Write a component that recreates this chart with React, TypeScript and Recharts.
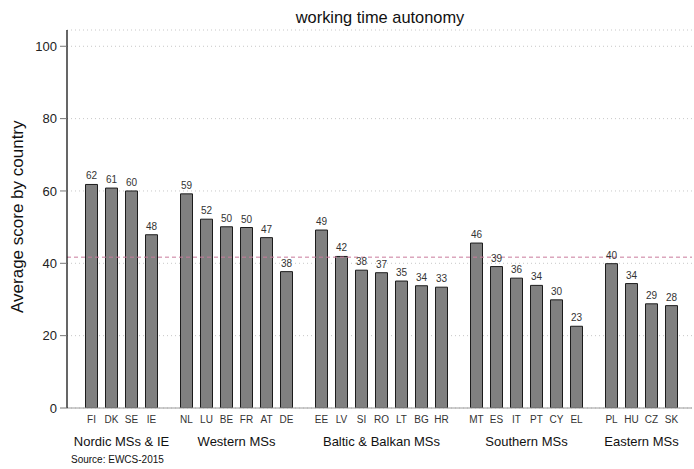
import React from 'react';
import { BarChart, Bar, XAxis, YAxis, CartesianGrid, ReferenceLine, LabelList } from 'recharts';

const FONT = '"Liberation Sans", Arial, Helvetica, sans-serif';

const titleText = 'working time autonomy';
const yAxisTitle = 'Average score by country';
const sourceText = 'Source: EWCS-2015';

const groupNames = ['Nordic MSs & IE', 'Western MSs', 'Baltic & Balkan MSs', 'Southern MSs', 'Eastern MSs'];

const nordicCodes = ['FI', 'DK', 'SE', 'IE'];
const nordicValues = [61.8, 60.8, 60.0, 47.9];

const westernCodes = ['NL', 'LU', 'BE', 'FR', 'AT', 'DE'];
const westernValues = [59.2, 52.2, 50.1, 49.9, 47.1, 37.7];

const balticCodes = ['EE', 'LV', 'SI', 'RO', 'LT', 'BG', 'HR'];
const balticValues = [49.2, 41.9, 38.1, 37.4, 35.1, 33.8, 33.4];

const southernCodes = ['MT', 'ES', 'IT', 'PT', 'CY', 'EL'];
const southernValues = [45.6, 39.1, 35.9, 33.9, 29.9, 22.6];

const easternCodes = ['PL', 'HU', 'CZ', 'SK'];
const easternValues = [39.9, 34.4, 28.8, 28.3];

const overallMean = 41.7;

const yTicks = [0, 20, 40, 60, 80, 100];
const yMax = 104.5;

const groupCodes = [nordicCodes, westernCodes, balticCodes, southernCodes, easternCodes];
const groupValues = [nordicValues, westernValues, balticValues, southernValues, easternValues];

const GROUP_GAP = 0.75;

type Row = { code: string; value: number; pos: number; group: number };
const rows: Row[] = [];
let idx = 0;
groupCodes.forEach((codes, g) => {
  codes.forEach((code, i) => {
    rows.push({ code, value: groupValues[g][i], pos: idx + g * GROUP_GAP, group: g });
    idx++;
  });
});

const positions = rows.map((r) => r.pos);
const groupCenters = groupNames.map((_, g) => {
  const ps = rows.filter((r) => r.group === g).map((r) => r.pos);
  return (Math.min(...ps) + Math.max(...ps)) / 2;
});
const lastPos = positions[positions.length - 1];
const xDomain: [number, number] = [-1.225, lastPos + 1.025];

const codeAt = (v: number) => {
  const r = rows.find((row) => Math.abs(row.pos - v) < 1e-6);
  return r ? r.code : '';
};
const groupAt = (v: number) => {
  const g = groupCenters.findIndex((c) => Math.abs(c - v) < 1e-6);
  return g >= 0 ? groupNames[g] : '';
};

const CountryTick = (props: any) => {
  const { x, y, payload } = props;
  return (
    <text x={x} y={y} dy={7} textAnchor="middle" fontSize={10} fill="#333" fontFamily={FONT}>
      {codeAt(payload.value)}
    </text>
  );
};

const GroupTick = (props: any) => {
  const { x, y, payload } = props;
  return (
    <text x={x} y={y} dy={8} textAnchor="middle" fontSize={13} fill="#111" fontFamily={FONT}>
      {groupAt(payload.value)}
    </text>
  );
};

const YTick = (props: any) => {
  const { x, y, payload } = props;
  return (
    <text x={x} y={y} dy={4.6} textAnchor="end" fontSize={13} fill="#222" fontFamily={FONT}>
      {payload.value}
    </text>
  );
};

export default function App() {
  return (
    <div style={{ position: 'absolute', left: 0, top: 0, width: 694, height: 469, background: '#fff' }}>
      <BarChart
        width={694}
        height={469}
        data={rows}
        margin={{ top: 30, right: 2, left: 0, bottom: 14 }}
        style={{ fontFamily: FONT }}
      >
        <CartesianGrid
          xAxisId="c"
          vertical={false}
          stroke="#c8c8c8"
          strokeDasharray="1 3"
        />
        <XAxis
          xAxisId="c"
          dataKey="pos"
          type="number"
          domain={xDomain}
          ticks={positions}
          allowDataOverflow
          interval={0}
          tickLine={false}
          axisLine={{ stroke: '#9a9a9a', strokeWidth: 1 }}
          height={22}
          tick={<CountryTick />}
        />
        <XAxis
          xAxisId="g"
          dataKey="pos"
          type="number"
          domain={xDomain}
          ticks={groupCenters}
          allowDataOverflow
          interval={0}
          tickLine={false}
          axisLine={false}
          height={25}
          tick={<GroupTick />}
        />
        <YAxis
          type="number"
          domain={[0, yMax]}
          ticks={yTicks}
          allowDataOverflow
          width={67}
          tickSize={7}
          tickMargin={3}
          tickLine={{ stroke: '#777' }}
          axisLine={{ stroke: '#000', strokeWidth: 1.2 }}
          tick={<YTick />}
        />
        <Bar
          xAxisId="c"
          dataKey="value"
          barSize={12}
          fill="#808080"
          stroke="#1c1c1c"
          strokeWidth={1}
          isAnimationActive={false}
        >
          <LabelList
            dataKey="value"
            position="top"
            offset={5}
            formatter={(v: any) => Math.round(Number(v))}
            style={{ fontSize: 10, fill: '#333', fontFamily: FONT }}
          />
        </Bar>
        <ReferenceLine
          xAxisId="c"
          y={overallMean}
          stroke="#c97a9b"
          strokeWidth={1}
          strokeDasharray="4 3"
          ifOverflow="extendDomain"
        />
      </BarChart>
      <svg
        width={694}
        height={469}
        style={{ position: 'absolute', left: 0, top: 0, pointerEvents: 'none' }}
      >
        <text x={380} y={23} textAnchor="middle" fontSize={16.4} fill="#111" fontFamily={FONT}>
          {titleText}
        </text>
        <text
          x={0}
          y={0}
          transform="translate(23, 216.7) rotate(-90)"
          textAnchor="middle"
          fontSize={17}
          fill="#111"
          fontFamily={FONT}
        >
          {yAxisTitle}
        </text>
        <text x={71} y={462.8} fontSize={10} fill="#111" fontFamily={FONT}>
          {sourceText}
        </text>
      </svg>
    </div>
  );
}
